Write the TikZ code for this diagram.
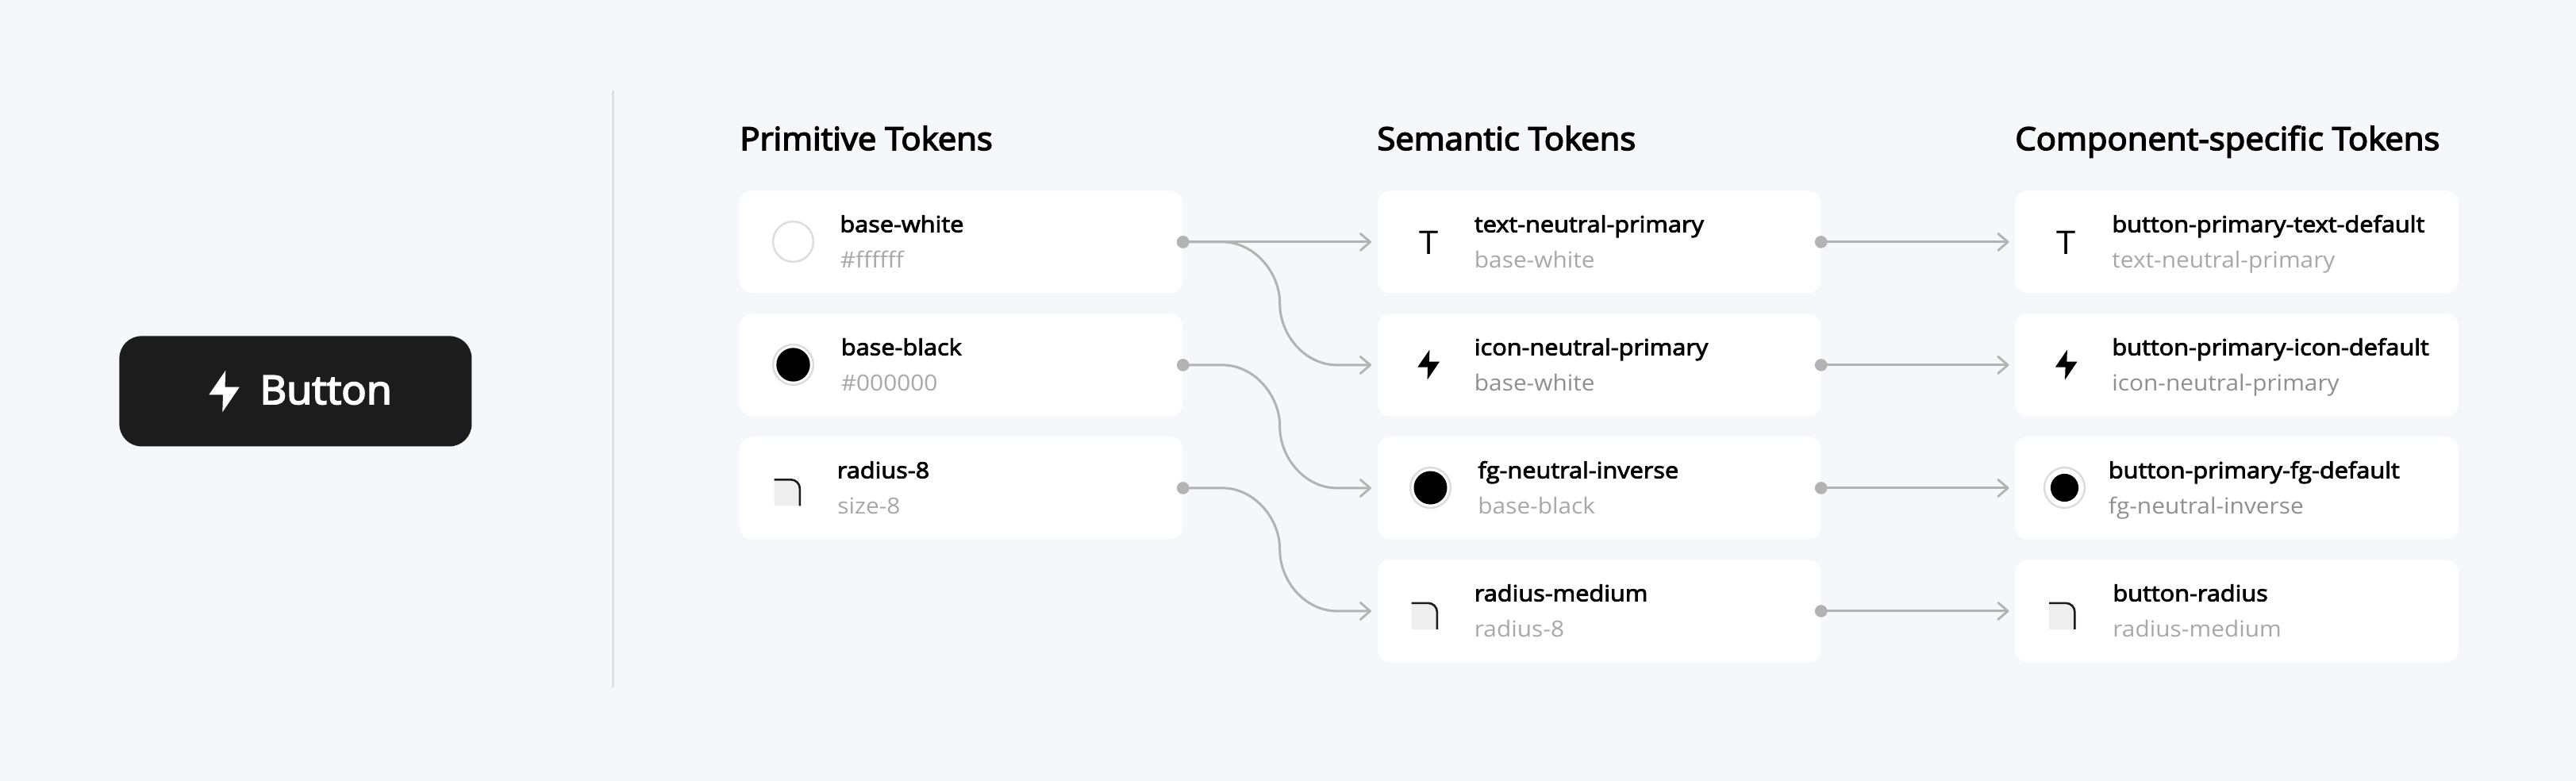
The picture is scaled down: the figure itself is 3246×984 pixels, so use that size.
\documentclass[tikz,border=0pt]{standalone}
\usepackage{fontspec}
\setmainfont[FakeStretch=1.065]{Open Sans}
\newfontfamily\medfont[FakeStretch=1.095,FakeBold=3.2]{Open Sans}
\newfontfamily\headfont[FakeStretch=1.045,FakeBold=3.8]{Open Sans}
\usetikzlibrary{arrows.meta,calc}
\definecolor{bgc}{HTML}{F6F7FB}
\definecolor{btn}{HTML}{1C1C1C}
\definecolor{subc}{HTML}{A8A8A8}
\definecolor{linec}{HTML}{B3B3B3}
\definecolor{ringc}{HTML}{DCDCDC}
\definecolor{cornerc}{HTML}{EEEEEE}
\definecolor{inkc}{HTML}{050505}
\definecolor{divc}{HTML}{DEDFE2}
\tikzset{
  x=0.5pt,y=-0.5pt,
  card/.style={fill=white,rounded corners=8pt,inner sep=0,minimum width=279.2pt,minimum height=64.5pt,anchor=north west},
  heading/.style={anchor=base west,inner sep=0,text=black,font=\headfont\fontsize{20}{24}\selectfont},
  title/.style={anchor=base west,inner sep=0,text=inkc,font=\medfont\fontsize{14}{17}\selectfont},
  sub/.style={anchor=base west,inner sep=0,text=subc,font=\fontsize{14}{17}\selectfont},
  conn/.style={draw=linec,line width=1.5pt},
  flow/.style={conn,-{Straight Barb[length=6.2pt,width=10.6pt,line width=1.4pt,round]}},
  dotm/.style={circle,fill=linec,inner sep=0,minimum size=7.8pt},
  ring/.style={circle,draw=ringc,fill=white,line width=1.2pt,inner sep=0,minimum size=25.4pt},
  glyph/.style={inner sep=0,text=black,font=\fontsize{20.5}{24}\selectfont},
}
\newcommand{\boltat}[3][black]{\fill[#1,shift={(#2)},scale=#3] (1.3,-26.3) -- (0.5,-5.3) -- (18.7,-5.3) -- (-2.7,26.3) -- (-2,4.3) -- (-19.7,4.3) -- cycle;}
\newcommand{\cornerat}[1]{%
  \fill[cornerc,shift={(#1)}] (0,0) -- (22,0) arc[start angle=90,end angle=0,radius=6pt] -- (34,34.4) -- (0,34.4) -- cycle;
  \draw[btn,line width=1.3pt,shift={(#1)}] (0,1.3) -- (21,1.3) arc[start angle=90,end angle=0,radius=5.7pt] -- (32.4,34.4);}
\newcommand{\lane}[2]{\node[dotm] at (#1.east) {};\draw[flow] (#1.east) -- ($(#2.west)+(-7.5,0)$);}
\newcommand{\curvelane}[2]{\node[dotm] at (#1.east) {};
  \draw[flow] let \p1=(#1.east), \p2=($(#2.west)+(-7.5,0)$), \n1={0.5*(\y1+\y2)}, \n2={\x1+61pt} in
   (\p1) -- (\x1+25pt,\y1) .. controls (\x1+44.5pt,\y1) and (\n2,\n1+20pt) .. (\n2,\n1)
   .. controls (\n2,\n1-20pt) and (\n2+16pt,\y2) .. (\n2+36pt,\y2) -- (\p2);}
\begin{document}
\begin{tikzpicture}
\useasboundingbox (0,0) rectangle (3246,984);
\fill[bgc] (0,0) rectangle (3246,984);
% button
\node[fill=btn,rounded corners=14pt,inner sep=0,minimum width=222pt,minimum height=69.5pt,anchor=north west] (button) at (150,423) {};
\boltat[white]{283,493}{1}
\node[anchor=base west,inner sep=0,text=white] (buttontext) at (327,509) {\headfont\fontsize{25}{30}\selectfont Button};
% divider
\draw[divc,line width=1.5pt] (772,114) coordinate (d1) -- (772,866) coordinate (d2);
% headings
\node[heading] (h1) at (932,189) {Primitive Tokens};
\node[heading] (h2) at (1735,189) {Semantic Tokens};
\node[heading] (h3) at (2539,189) {Component-specific Tokens};
% cards
\foreach \n/\cx/\cy in {p1/931.5/240,p2/931.5/395,p3/931.5/550,s1/1735.5/240,s2/1735.5/395,s3/1735.5/550,s4/1735.5/705,c1/2539/240,c2/2539/395,c3/2539/550,c4/2539/705}
  \node[card] (\n) at (\cx,\cy) {};
% column 1
\node[ring] (ip1) at (999.5,304.5) {};
\node[title] (tp1) at (1058,292.5) {base-white};
\node[sub] (sp1) at (1058.5,337.5) {\#ffffff};
\node[ring] (ip2) at (999.5,459.5) {};
\fill[black] (ip2) circle (10.6pt);
\node[title] (tp2) at (1059.5,447.5) {base-black};
\node[sub] (sp2) at (1059.5,492.5) {\#000000};
\cornerat{975.5,603}
\node[title] (tp3) at (1054.5,602.5) {radius-8};
\node[sub] (sp3) at (1055,647.5) {size-8};
% column 2
\node[glyph] (is1) at (1800.5,305.5) {T};
\node[title] (ts1) at (1857.5,292.5) {text-neutral-primary};
\node[sub] (ss1) at (1857.5,337.5) {base-white};
\boltat{1800.5,459.5}{0.72}
\node[title] (ts2) at (1857.5,447.5) {icon-neutral-primary};
\node[sub,text=subc!85!black] (ss2) at (1857.5,492.5) {base-white};
\node[ring] (is3) at (1802.5,614.5) {};
\fill[black] (is3) circle (10.5pt);
\node[title] (ts3) at (1862,602.5) {fg-neutral-inverse};
\node[sub] (ss3) at (1862,647.5) {base-black};
\cornerat{1778.5,758.5}
\node[title] (ts4) at (1857.5,757.5) {radius-medium};
\node[sub] (ss4) at (1857.5,802.5) {radius-8};
% column 3
\node[glyph] (ic1) at (2604,305.5) {T};
\node[title] (tc1) at (2661,292.5) {button-primary-text-default};
\node[sub] (sc1) at (2661,337.5) {text-neutral-primary};
\boltat{2604,459.5}{0.72}
\node[title] (tc2) at (2661,447.5) {button-primary-icon-default};
\node[sub,text=subc!85!black] (sc2) at (2661,492.5) {icon-neutral-primary};
\node[ring] (ic3) at (2601.5,614.5) {};
\fill[black] (ic3) circle (8.8pt);
\node[title] (tc3) at (2656.5,602.5) {button-primary-fg-default};
\node[sub,text=subc!85!black] (sc3) at (2656.5,647.5) {fg-neutral-inverse};
\cornerat{2582,758.5}
\node[title] (tc4) at (2662,757.5) {button-radius};
\node[sub] (sc4) at (2662,802.5) {radius-medium};
% connectors
\lane{p1}{s1}
\curvelane{p1}{s2}
\curvelane{p2}{s3}
\curvelane{p3}{s4}
\lane{s1}{c1}
\lane{s2}{c2}
\lane{s3}{c3}
\lane{s4}{c4}
\end{tikzpicture}
\end{document}
